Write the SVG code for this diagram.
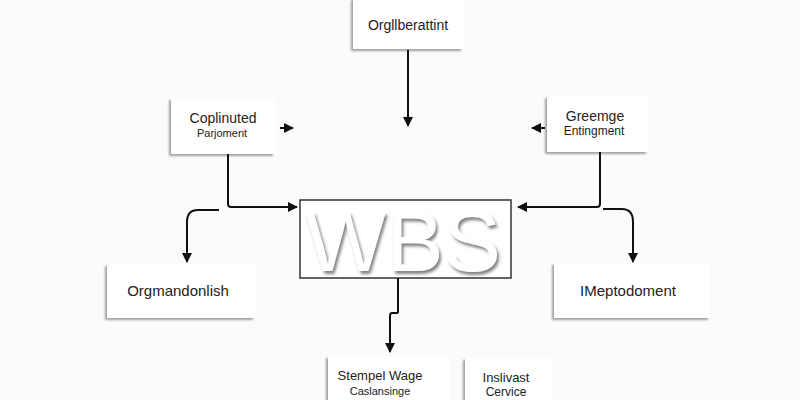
<svg xmlns="http://www.w3.org/2000/svg" width="800" height="400" viewBox="0 0 800 400">
<defs>
<filter id="shadow" x="-20%" y="-20%" width="140%" height="140%">
<feDropShadow dx="-2" dy="2" stdDeviation="1.2" flood-color="#888" flood-opacity="0.8"/>
</filter>
<filter id="emb" x="-10%" y="-10%" width="120%" height="130%">
<feDropShadow dx="2" dy="3" stdDeviation="1.5" flood-color="#777" flood-opacity="0.9"/>
</filter>
<marker id="ah" viewBox="0 0 10 10" refX="9" refY="5" markerWidth="5" markerHeight="5" orient="auto">
<path d="M0,0 L10,5 L0,10 z" fill="#111"/>
</marker>
</defs>
<style>
.box{fill:#fff;filter:url(#shadow)}
.t{font-family:"Liberation Sans",Arial,sans-serif;fill:#222;text-anchor:middle}
.c{fill:none;stroke:#111;stroke-width:2;marker-end:url(#ah)}
</style>
<rect width="800" height="400" fill="#fbfbfb"/>
<g id="n-top"><rect class="box" x="353" y="-2" width="110" height="51"/><text class="t" x="408" y="30" font-size="14">Orgllberattint</text></g>
<g id="n-coplinuted"><rect class="box" x="171" y="98" width="104" height="56"/><text class="t" x="223" y="123" font-size="14">Coplinuted</text><text class="t" x="222" y="137" font-size="11">Parjoment</text></g>
<g id="n-greemge"><rect class="box" x="547" y="96" width="101" height="56"/><text class="t" x="595" y="121" font-size="14">Greemge</text><text class="t" x="594" y="135" font-size="12">Entingment</text></g>
<g id="n-wbs"><rect x="300" y="200" width="211" height="78" fill="#fff" stroke="#333" stroke-width="1.5"/><text x="403" y="271" font-family="'Liberation Sans',Arial,sans-serif" font-size="86" text-anchor="middle" fill="#fff" filter="url(#emb)">WBS</text></g>
<g id="n-orgmandonlish"><rect class="box" x="107" y="264" width="148" height="54"/><text class="t" x="178" y="296" font-size="15">Orgmandonlish</text></g>
<g id="n-imeptodoment"><rect class="box" x="554" y="263" width="156" height="55"/><text class="t" x="628" y="296" font-size="15">IMeptodoment</text></g>
<g id="n-stempel"><rect class="box" x="328" y="356" width="122" height="50"/><text class="t" x="380" y="380" font-size="13">Stempel Wage</text><text class="t" x="380" y="395" font-size="11">Caslansinge</text></g>
<g id="n-inslivast"><rect class="box" x="465" y="358" width="86" height="48"/><text class="t" x="506" y="382" font-size="13">Inslivast</text><text class="t" x="506" y="396" font-size="12">Cervice</text></g>
<g id="connectors">
<path class="c" d="M408,50 V126"/>
<path class="c" d="M280,128 H293"/>
<path class="c" d="M545,128 H532"/>
<path class="c" d="M228,154 V204 Q228,207 231,207 H297"/>
<path class="c" d="M219,210 H198 Q187,210 187,222 V262"/>
<path class="c" d="M600,152 V204 Q600,207 597,207 H518"/>
<path class="c" d="M603,209 H622 Q633,209 633,222 V262"/>
<path class="c" d="M398,278 V312 Q398,313 396,313 H392 Q390,313 390,316 V352"/>
</g>
</svg>
